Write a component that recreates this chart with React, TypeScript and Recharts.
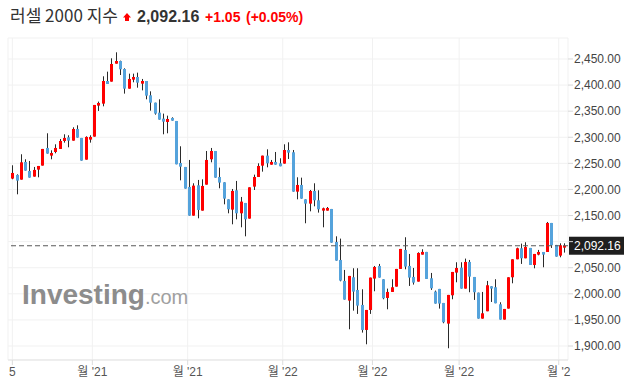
import React from "react";
import {
  ComposedChart,
  Bar,
  XAxis,
  YAxis,
  CartesianGrid,
  ReferenceLine,
} from "recharts";

// daily OHLC
const opens = [
  2220.8, 2227.8, 2218.8, 2252.7, 2235.4, 2224.6, 2238.0, 2245.7, 2279.5, 2264.8,
  2271.8, 2277.6, 2292.9, 2299.9, 2293.5, 2315.9, 2298.7, 2257.1, 2295.5, 2301.2,
  2360.6, 2364.4, 2407.8, 2406.6, 2441.0, 2446.1, 2430.8, 2393.1, 2410.4, 2415.5,
  2402.7, 2407.8, 2380.4, 2366.3, 2347.2, 2335.7, 2329.3, 2337.0, 2331.2, 2250.7,
  2243.1, 2204.8, 2149.8, 2208.0, 2159.4, 2209.2, 2257.8, 2273.7, 2223.9, 2213.7,
  2181.1, 2161.3, 2198.4, 2154.3, 2174.1, 2144.1, 2205.4, 2223.9, 2245.6, 2264.8,
  2247.5, 2252.7, 2250.1, 2249.5, 2275.6, 2271.2, 2195.8, 2208.6, 2181.1, 2172.8,
  2197.1, 2179.2, 2159.4, 2159.4, 2162.6, 2099.4, 2064.9, 2024.7, 1987.0, 2031.7,
  2007.4, 1978.7, 1930.8, 1969.1, 2029.2, 2053.4, 2027.9, 1992.1, 2003.6, 2013.8,
  2047.7, 2084.1, 2053.4, 2032.4, 2023.4, 2075.1, 2080.3, 2029.8, 2004.3, 2009.4,
  1982.5, 1942.9, 1997.2, 2040.7, 2050.2, 2010.0, 2061.1, 2032.3, 2002.3, 1952.5,
  1966.6, 2014.5, 2012.6, 1980.0, 1950.6, 1971.7, 2031.7, 2066.2, 2087.3, 2068.1,
  2087.9, 2055.3, 2075.1, 2080.2, 2080.2, 2135.8, 2093.7, 2073.2, 2088.5,
];
const highs = [
  2246.3, 2229.0, 2267.4, 2257.8, 2254.6, 2243.1, 2245.0, 2277.6, 2307.6, 2275.0,
  2286.5, 2296.7, 2305.7, 2303.8, 2319.1, 2322.9, 2298.7, 2301.8, 2303.8, 2361.9,
  2368.3, 2416.8, 2425.7, 2451.3, 2462.8, 2446.8, 2432.1, 2421.9, 2421.9, 2423.8,
  2411.7, 2407.8, 2388.0, 2366.3, 2372.7, 2345.3, 2341.4, 2338.2, 2331.2, 2282.7,
  2243.1, 2256.5, 2211.8, 2218.2, 2219.4, 2273.7, 2279.5, 2273.7, 2241.8, 2213.7,
  2181.1, 2200.9, 2216.3, 2185.6, 2174.1, 2204.1, 2228.4, 2250.1, 2264.8, 2276.9,
  2256.5, 2271.8, 2259.7, 2286.5, 2290.3, 2275.6, 2223.3, 2222.6, 2181.1, 2199.0,
  2211.8, 2198.4, 2165.2, 2166.4, 2162.6, 2110.2, 2105.8, 2045.8, 2034.3, 2049.0,
  2049.0, 2008.7, 1969.1, 2031.1, 2053.4, 2057.3, 2027.9, 2010.0, 2027.9, 2047.7,
  2086.0, 2108.4, 2076.4, 2049.6, 2079.6, 2085.4, 2080.3, 2040.0, 2006.2, 2009.4,
  1982.5, 1997.9, 2041.9, 2060.5, 2060.5, 2067.5, 2064.9, 2032.3, 2002.3, 2003.6,
  2024.7, 2014.5, 2027.9, 1983.8, 1971.0, 2031.7, 2066.2, 2088.5, 2096.2, 2098.8,
  2087.9, 2076.4, 2084.1, 2080.2, 2137.7, 2135.8, 2093.7, 2096.8, 2096.8,
];
const lows = [
  2219.5, 2190.7, 2218.8, 2236.1, 2222.7, 2224.6, 2223.3, 2245.7, 2268.7, 2257.8,
  2269.3, 2277.6, 2289.7, 2280.8, 2293.5, 2299.3, 2255.2, 2257.1, 2289.7, 2301.2,
  2350.4, 2359.3, 2402.1, 2406.6, 2441.0, 2419.3, 2383.6, 2393.1, 2405.3, 2395.0,
  2389.9, 2372.7, 2351.0, 2343.3, 2333.8, 2305.7, 2307.6, 2331.8, 2248.2, 2217.5,
  2201.6, 2149.8, 2149.8, 2144.7, 2159.4, 2209.2, 2252.0, 2222.6, 2202.2, 2171.5,
  2154.3, 2133.2, 2142.8, 2127.5, 2110.2, 2144.1, 2199.0, 2223.9, 2234.1, 2242.4,
  2247.5, 2247.5, 2244.4, 2249.5, 2258.4, 2195.8, 2181.1, 2182.4, 2135.2, 2158.1,
  2167.7, 2155.6, 2127.5, 2159.4, 2098.1, 2063.6, 2024.0, 1988.9, 1932.1, 1967.8,
  1961.5, 1925.7, 1903.3, 1961.5, 2004.9, 2031.1, 1989.6, 1970.4, 2003.6, 2013.8,
  2047.7, 2047.0, 2015.1, 2017.7, 2023.4, 2075.1, 2028.5, 2007.5, 1981.3, 1971.7,
  1943.6, 1895.7, 1989.6, 2022.1, 2010.0, 2010.0, 2003.0, 1988.3, 1952.5, 1952.5,
  1966.6, 1984.4, 1981.9, 1950.6, 1950.6, 1971.7, 2020.2, 2066.2, 2057.3, 2068.1,
  2055.3, 2048.9, 2073.8, 2050.9, 2080.2, 2087.9, 2071.3, 2070.0, 2079.0,
];
const closes = [
  2231.6, 2216.9, 2252.0, 2236.1, 2222.7, 2237.4, 2245.0, 2277.6, 2268.7, 2269.9,
  2279.5, 2292.9, 2298.7, 2293.5, 2315.9, 2299.3, 2255.2, 2300.6, 2300.6, 2361.9,
  2365.7, 2407.8, 2402.1, 2440.4, 2446.1, 2430.2, 2393.1, 2411.7, 2415.5, 2404.6,
  2407.8, 2379.7, 2366.3, 2345.3, 2333.8, 2329.9, 2335.0, 2331.8, 2248.2, 2243.7,
  2201.6, 2149.8, 2207.3, 2160.7, 2206.7, 2256.5, 2273.7, 2222.6, 2213.1, 2182.4,
  2162.0, 2197.1, 2154.3, 2176.7, 2142.8, 2204.1, 2223.9, 2245.0, 2264.8, 2250.1,
  2252.7, 2247.5, 2244.4, 2275.6, 2270.5, 2195.8, 2208.6, 2182.4, 2172.8, 2197.1,
  2179.2, 2162.0, 2163.9, 2164.5, 2098.1, 2063.6, 2025.3, 1988.9, 2034.3, 2004.2,
  1977.4, 1930.8, 1969.1, 2031.1, 2051.5, 2031.1, 1991.5, 2003.6, 2012.6, 2047.7,
  2086.0, 2052.2, 2031.1, 2021.5, 2078.3, 2080.3, 2028.5, 2010.6, 1981.3, 1981.3,
  1945.5, 1997.9, 2041.9, 2049.6, 2010.0, 2061.1, 2033.0, 2003.0, 1952.5, 1962.7,
  2016.4, 2010.0, 1981.9, 1950.6, 1971.0, 2031.7, 2066.2, 2087.3, 2068.1, 2089.8,
  2055.3, 2076.4, 2080.2, 2075.1, 2135.8, 2093.0, 2071.3, 2093.0, 2092.16,
];

const xTickPos = [0, 18.55, 40.66, 62.7, 83.5, 103.6, 126.7];
const xTickLabels = ["5", "월 '21", "월 '21", "월 '22", "월 '22", "월 '22", "월 '2"];
const yTicks = [1900, 1950, 2000, 2050, 2100, 2150, 2200, 2250, 2300, 2350, 2400, 2450];
const lastPrice = 2092.16;

const RED = "#ff0000";
const BLUE = "#55a3dc";
const FONT = "'Liberation Sans', Arial, 'Noto Sans CJK KR', sans-serif";
const KR_FONT = "'Noto Sans CJK KR', 'Liberation Sans', sans-serif";

const rows = closes.map((c, i) => ({
  i,
  o: opens[i],
  h: highs[i],
  l: lows[i],
  c,
  range: [lows[i], highs[i]],
}));

const fmt = (v: number) => v.toLocaleString("en-US", { minimumFractionDigits: 2 });

function Candle(props: any) {
  const { x, y, width, height, payload } = props;
  if (x == null || !payload) return null;
  const top = Math.min(y, y + height);
  const bottom = Math.max(y, y + height);
  const { o, h, l, c } = payload;
  const span = h - l || 1;
  const toY = (v: number) => top + ((h - v) / span) * (bottom - top);
  const bodyTop = toY(Math.max(o, c));
  const bodyBottom = toY(Math.min(o, c));
  const cx = Math.round(x + width / 2 - 0.5) + 0.5;
  return (
    <g>
      <line x1={cx} x2={cx} y1={top} y2={bottom} stroke="#2a2a2a" strokeWidth={1} />
      <rect
        x={cx - width / 2}
        y={bodyTop}
        width={width}
        height={Math.max(bodyBottom - bodyTop, 1.5)}
        fill={c >= o ? RED : BLUE}
      />
    </g>
  );
}

function PriceTag(props: any) {
  const vb = props.viewBox;
  if (!vb) return null;
  const left = vb.x + vb.width + 1;
  return (
    <g>
      <rect x={left} y={vb.y - 9} width={55} height={18} fill="#1f1f1f" />
      <text x={left + 5} y={vb.y} dy="0.36em" fill="#fff" fontSize={12} fontFamily={FONT}>
        {fmt(lastPrice)}
      </text>
    </g>
  );
}

export default function App() {
  return (
    <div style={{ position: "absolute", left: 0, top: 0, width: 632, height: 388, background: "#fff" }}>
      <ComposedChart
        width={632}
        height={388}
        data={rows}
        margin={{ top: 38, right: 0, bottom: 0, left: 8 }}
      >
        <CartesianGrid stroke="#f1f1f1" />
        <XAxis
          dataKey="i"
          type="number"
          domain={[-0.5, 128.5]}
          ticks={xTickPos}
          interval={0}
          padding={{ left: 2.2, right: 1.5 }}
          height={28}
          tickSize={5}
          tickFormatter={(v: number) => xTickLabels[xTickPos.indexOf(v)] ?? ""}
          axisLine={{ stroke: "#e3e3e3" }}
          tickLine={{ stroke: "#dcdcdc" }}
          tick={{ fill: "#555", fontSize: 12, fontFamily: FONT }}
        />
        <YAxis
          orientation="right"
          width={64}
          domain={[1873.2, 2490.2]}
          allowDataOverflow
          ticks={yTicks}
          interval={0}
          tickSize={5}
          tickMargin={1}
          axisLine={false}
          tickLine={{ stroke: "#d8d8d8" }}
          tick={{ fill: "#444", fontSize: 12, fontFamily: FONT, textAnchor: "start" }}
          // the 2,100 label sits under the last-price tag
          tickFormatter={(v: number) => (Math.abs(v - lastPrice) < 25 ? "" : fmt(v))}
        />
        <ReferenceLine
          y={lastPrice}
          stroke="#5a5a5a"
          strokeWidth={1.2}
          strokeDasharray="5 3"
          label={(p: any) => <PriceTag {...p} />}
        />
        <Bar
          dataKey="range"
          barSize={3}
          shape={(p: any) => <Candle {...p} />}
          isAnimationActive={false}
        />
      </ComposedChart>
      <svg
        width={632}
        height={388}
        style={{ position: "absolute", left: 0, top: 0, pointerEvents: "none" }}
      >
        <text x={22} y={304} fontFamily={FONT} fontSize={28} fontWeight="bold" fill="#8c8c8c">
          Investing
          <tspan fontSize={20} fontWeight="normal" fill="#a0a0a0">.com</tspan>
        </text>
        <text x={10} y={22} fontFamily={KR_FONT} fontSize={17} fill="#333">
          러셀 2000 지수
        </text>
        <path d="M127,13 L131,17.6 L129,17.6 L129,21 L125,21 L125,17.6 L123,17.6 Z" fill={RED} />
        <text x={137} y={22} fontFamily={FONT} fontSize={16} fontWeight="bold" fill="#333">
          2,092.16
        </text>
        <text x={205} y={22} fontFamily={FONT} fontSize={14} fontWeight="bold" fill={RED}>
          +1.05
        </text>
        <text x={246} y={22} fontFamily={FONT} fontSize={14} fontWeight="bold" fill={RED}>
          (+0.05%)
        </text>
      </svg>
    </div>
  );
}
